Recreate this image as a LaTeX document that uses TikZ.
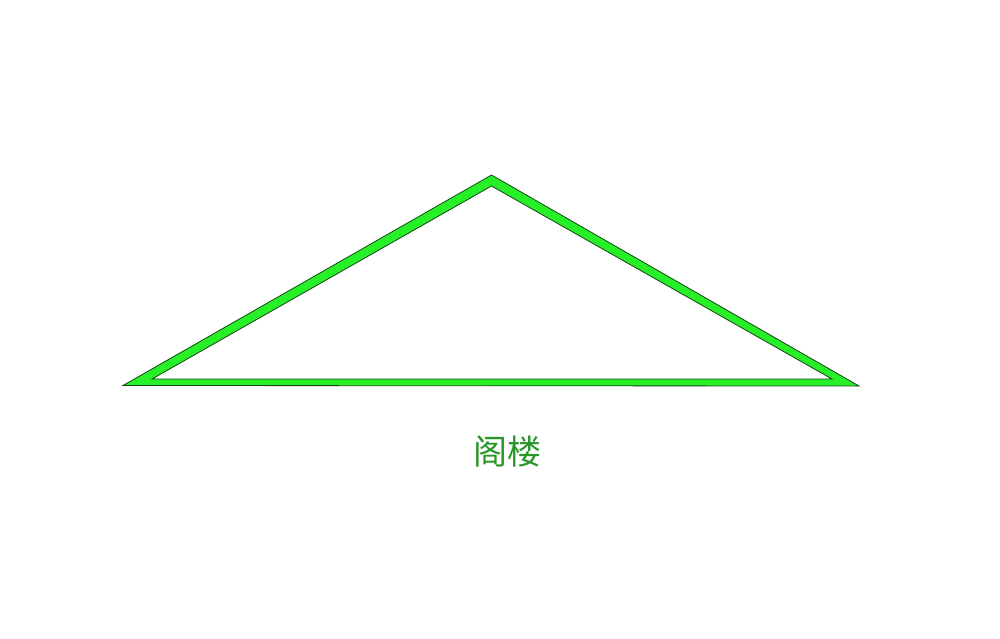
\documentclass[tikz,border=0pt]{standalone}
\usepackage{fontspec}
\newfontfamily\cjk{Noto Sans CJK SC}
\definecolor{band}{RGB}{40,240,40}
\definecolor{edge}{RGB}{20,70,20}
\definecolor{label}{RGB}{40,150,40}
\tikzset{roofband/.style={fill=band,draw=edge,line width=0.8pt,even odd rule,line join=miter}}
\begin{document}
\begin{tikzpicture}[x=1pt,y=-1pt]
\useasboundingbox[fill=white] (0,0) rectangle (1000,639);
\coordinate (oL) at (123,385.5);
\coordinate (oT) at (491.5,175);
\coordinate (oR) at (859,386);
\coordinate (iL) at (152,379);
\coordinate (iT) at (491.5,186);
\coordinate (iR) at (832,379);
\path[roofband] (oL) -- (oT) -- (oR) -- cycle (iL) -- (iT) -- (iR) -- cycle;
\node[text=label,font=\cjk\fontsize{34pt}{34pt}\selectfont,inner sep=0pt] (title) at (507,451) {阁楼};
\end{tikzpicture}
\end{document}
